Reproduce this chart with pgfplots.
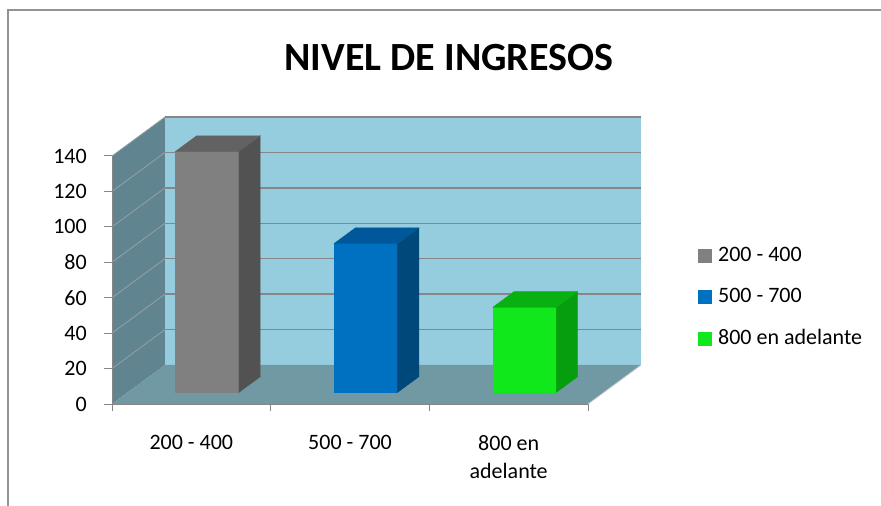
\documentclass[border=0pt]{standalone}
\usepackage{fontspec}
\setmainfont{Carlito}
\usepackage{pgfplots}
\pgfplotsset{compat=1.18}
\usepackage{pgfplotstable}

\definecolor{backwall}{RGB}{150,205,222}
\definecolor{leftwall}{RGB}{96,133,144}
\definecolor{floorc}{RGB}{112,153,164}
\definecolor{gridc}{RGB}{134,134,134}
\definecolor{lgridc}{RGB}{150,160,164}
\definecolor{axisc}{RGB}{134,134,134}
\definecolor{grayF}{RGB}{128,128,128}
\definecolor{grayS}{RGB}{82,82,82}
\definecolor{grayT}{RGB}{98,98,98}
\definecolor{blueF}{RGB}{0,112,192}
\definecolor{blueS}{RGB}{0,72,122}
\definecolor{blueT}{RGB}{0,88,155}
\definecolor{greenF}{RGB}{16,232,28}
\definecolor{greenS}{RGB}{6,158,14}
\definecolor{greenT}{RGB}{9,176,18}

\pgfplotstableread{
x val
0 136
}\tA
\pgfplotstableread{
x val
1 84
}\tB
\pgfplotstableread{
x val
2 48
}\tC

\pgfplotsset{
  cuboid/.style n args={3}{
    forget plot, only marks, mark=*, mark size=0pt,
    mark options={draw=none, fill=none},
    scatter,
    visualization depends on={\thisrow{val} \as \val},
    scatter/@pre marker code/.code={%
      \pgfmathsetmacro\yb{11.7-\val*1.77143}%
      \fill[#1] (-15.85bp,\yb bp) rectangle (47.65bp,11.7bp);
      \fill[#2] (47.65bp,\yb bp) -- ++(21.2bp,15.6bp) -- (68.85bp,27.3bp) -- (47.65bp,11.7bp) -- cycle;
      \fill[#3] (-15.85bp,11.7bp) -- (47.65bp,11.7bp) -- (68.85bp,27.3bp) -- (5.35bp,27.3bp) -- cycle;
    },
    scatter/@post marker code/.code={},
  },
}

\begin{document}
\begin{tikzpicture}
\path[use as bounding box] (0,0) rectangle (881bp,506bp);
\draw[line width=1.2bp, color=gray!85] (8bp,-2bp) -- (8bp,496bp) -- (884bp,496bp);
\begin{axis}[
  at={(112bp,102bp)}, anchor=south west,
  x=158.667bp, y=1.77143bp,
  xmin=-0.5, xmax=2.5, ymin=0, ymax=140,
  enlargelimits=false, clip=false, axis on top,
  axis x line*=bottom, axis y line*=left,
  axis line style={draw=axisc, line width=1bp, -},
  tick style={draw=axisc, line width=1bp},
  tick align=outside,
  major tick length=8bp, minor tick length=7bp,
  ytick={0,20,...,140},
  xtick={0,1,2},
  xticklabels={200 - 400, 500 - 700, {800 en\\adelante}},
  minor xtick={-0.5,0.5,1.5,2.5},
  major x tick style={draw=none},
  ticklabel style={font=\fontsize{22bp}{28bp}\selectfont, text=black},
  xticklabel style={align=center, yshift=-20bp},
  yticklabel style={xshift=-13.7bp},
  /pgf/number format/assume math mode=true,
  title={NIVEL DE INGRESOS},
  title style={at={(0.708,1.32)}, anchor=base, font=\fontsize{40bp}{48bp}\selectfont\bfseries},
  legend style={at={(1.231,0.431)}, anchor=west, draw=none, fill=none, inner sep=0pt,
    font=\fontsize{22bp}{26bp}\selectfont, row sep=20.5bp, column sep=6bp,
    nodes={inner sep=0pt, text height=16bp, text depth=5bp}},
  legend cell align=left,
  legend image code/.code={\fill[#1] (0bp,-7bp) rectangle (14bp,7bp);},
]
% walls and floor
\fill[leftwall] (axis cs:-0.5,0) -- ++(53bp,39bp) -- ([shift={(53bp,39bp)}]axis cs:-0.5,140) -- (axis cs:-0.5,140) -- cycle;
\fill[backwall] ([shift={(53bp,39bp)}]axis cs:-0.5,0) rectangle ([shift={(53bp,39bp)}]axis cs:2.5,140);
\fill[floorc] (axis cs:-0.5,0) -- (axis cs:2.5,0) -- ++(53bp,39bp) -- ([shift={(53bp,39bp)}]axis cs:-0.5,0) -- cycle;
\draw[gray!45, line width=0.8bp] (axis cs:2.5,0) -- ++(53bp,39bp);
\pgfplotsinvokeforeach{20,40,...,140}{
  \draw[gridc, line width=1.4bp] ([shift={(53bp,39bp)}]axis cs:-0.5,#1) -- ([shift={(53bp,39bp)}]axis cs:2.5,#1);
  \draw[lgridc, line width=0.8bp] (axis cs:-0.5,#1) -- ++(53bp,39bp);
}
% bars
\addplot[cuboid={grayF}{grayS}{grayT}] table {\tA};
\addplot[cuboid={blueF}{blueS}{blueT}] table {\tB};
\addplot[cuboid={greenF}{greenS}{greenT}] table {\tC};
% legend
\addlegendimage{fill=grayF, draw=none}
\addlegendentry{200 - 400}
\addlegendimage{fill=blueF, draw=none}
\addlegendentry{500 - 700}
\addlegendimage{fill=greenF, draw=none}
\addlegendentry{800 en adelante}
\end{axis}
\end{tikzpicture}
\end{document}
